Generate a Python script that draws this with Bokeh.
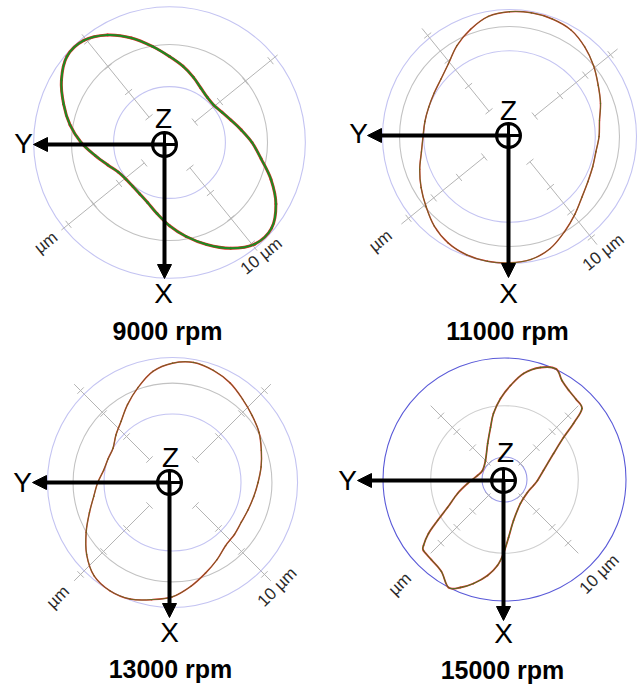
import numpy as np
from bokeh.plotting import figure
from bokeh.layouts import column, row
from bokeh.models import Range1d, Arrow, NormalHead
from bokeh.core.properties import value
from bokeh.embed import file_html
from bokeh.resources import INLINE

# ---------------------------------------------------------------------------
# Shaft orbit data: radius (µm) against angle (deg, counter-clockwise from the
# right-hand side of the plot).
# ---------------------------------------------------------------------------
ANGLES_DEG = [0, 10, 20, 30, 40, 50, 60, 70, 80, 90, 100, 110, 120, 130, 140, 150, 160, 170,
              180, 190, 200, 210, 220, 230, 240, 250, 260, 270, 280, 290, 300, 310, 320, 330, 340, 350]

ORBIT_9000 = [6.35, 5.60, 5.03, 4.66, 4.46, 4.53, 4.83, 5.35, 5.96, 6.62, 7.50, 8.56,
              9.55, 10.25, 10.30, 9.60, 8.67, 7.77, 6.80, 5.80, 5.05, 4.55, 4.38, 4.40,
              4.57, 4.92, 5.55, 6.40, 7.34, 8.35, 9.40, 10.20, 10.25, 9.45, 8.31, 7.15]

ORBIT_11000 = [6.89, 7.03, 7.45, 7.88, 8.45, 9.00, 9.46, 9.62, 9.66, 9.60, 9.38, 8.77,
               8.08, 7.31, 6.88, 6.69, 6.61, 6.61, 6.65, 6.88, 7.35, 7.85, 8.38, 9.00,
               9.45, 9.68, 9.75, 9.72, 9.60, 9.17, 8.46, 7.82, 7.27, 6.96, 6.81, 6.75]

ORBIT_13000 = [6.58, 6.92, 7.27, 7.69, 8.00, 8.38, 8.85, 9.18, 9.38, 9.18, 8.68, 7.77,
               6.92, 6.15, 5.68, 5.28, 5.28, 5.38, 5.75, 6.15, 6.80, 7.67, 8.62, 9.38,
               9.62, 9.54, 9.15, 8.79, 8.11, 7.42, 6.85, 6.35, 6.22, 6.11, 6.18, 6.34]

ANGLES_15000 = [13.0, 27.9, 35.4, 39.1, 42.5, 48.3, 54.3, 59.9, 65.0, 72.2, 79.8, 86.3,
                92.8, 99.5, 105.0, 115.0, 135.0, 157.8, 171.6, 186.2, 196.6, 206.2, 211.5,
                215.4, 219.2, 221.2, 227.6, 235.5, 242.6, 247.8, 253.4, 260.0, 265.3, 269.2,
                274.0, 282.4, 303.7, 330.5, 348.3, 358.3]
ORBIT_15000 = [4.44, 6.17, 8.04, 9.88, 11.67, 11.94, 12.22, 12.72, 13.56, 13.07, 11.97, 10.47,
               9.01, 7.43, 5.99, 4.42, 2.99, 2.64, 3.03, 4.13, 5.44, 7.06, 8.72,
               10.36, 11.61, 11.97, 12.06, 12.39, 13.52, 12.96, 12.06, 10.83, 9.59, 8.22,
               6.46, 4.67, 3.20, 2.93, 3.29, 3.67]

# Reference circles: minimum, mean and maximum radius (µm)
CIRCLES_9000 = [4.30, 7.54, 10.45]
CIRCLES_11000 = [6.60, 8.46, 9.77]
CIRCLES_13000 = [5.27, 7.65, 9.62]
CIRCLES_15000 = [2.50, 8.20, 13.50]

SCALE_TICKS_UM = [2.5, 5.0, 7.5, 10.0]
SPEED_LABELS = ["9000 rpm", "11000 rpm", "13000 rpm", "15000 rpm"]

# ---------------------------------------------------------------------------
# Panel layout (pixel offsets are measured from the plot centre, y downwards)
# ---------------------------------------------------------------------------
TOP_H, BOTTOM_H = 347, 337

PANELS = [
    dict(w=321, h=TOP_H, cx=169, cy=142, s=13.0, rot=39, span=(2.5, 10.7),
         z=(-5, 2), y_tip=-136, x_tip=136, y_lab=(-146, 1), x_lab=(-6, 151), z_lab=(-6, -24),
         title=(-2, 188), unit_r=159, ten_r=146,
         red_w=3.0, green_w=2.0, green_a=1.0,
         ring_colors=["#c4c4f2", "#c2c2c2", "#c4c4f2"]),
    dict(w=322, h=TOP_H, cx=188, cy=136, s=13.0, rot=39, span=(2.5, 10.7),
         z=(-1, -1), y_tip=-142, x_tip=141, y_lab=(-151, -3), x_lab=(-1, 157), z_lab=(-1, -26),
         title=(-2, 194), unit_r=166, ten_r=149,
         red_w=1.5, green_w=1.0, green_a=0.6,
         ring_colors=["#c4c4f2", "#c2c2c2", "#c4c4f2"]),
    dict(w=321, h=BOTTOM_H, cx=172, cy=482 - TOP_H, s=13.0, rot=45, span=(2.5, 10.7),
         z=(-3, 0), y_tip=-140, x_tip=135, y_lab=(-150, 0), x_lab=(-3, 150), z_lab=(-2, -25),
         title=(-2, 186), unit_r=162, ten_r=148,
         red_w=1.5, green_w=1.0, green_a=0.6,
         ring_colors=["#c4c4f2", "#c2c2c2", "#c4c4f2"]),
    dict(w=322, h=BOTTOM_H, cx=183, cy=479 - TOP_H, s=9.0, rot=45, span=(2.2, 11.6),
         z=(-1, 1), y_tip=-147, x_tip=141, y_lab=(-157, 1), x_lab=(-1, 154), z_lab=(1, -27),
         title=(-2, 190), unit_r=148, ten_r=134,
         red_w=1.8, green_w=1.0, green_a=0.85,
         ring_colors=["#9a9ae8", "#cfcfcf", "#5a5ad8"]),
]

ORBITS = [(ANGLES_DEG, ORBIT_9000), (ANGLES_DEG, ORBIT_11000),
          (ANGLES_DEG, ORBIT_13000), (ANGLES_15000, ORBIT_15000)]
CIRCLES = [CIRCLES_9000, CIRCLES_11000, CIRCLES_13000, CIRCLES_15000]

RED = "#e0302a"
GREEN = "#1c8a22"
AXIS_GREY = "#b4b4b4"
FONT = value("Liberation Sans")


def closed_curve_segments(xs, ys):
    """Cubic Bezier pieces (Catmull-Rom tangents) through a closed set of points."""
    x, y = np.asarray(xs), np.asarray(ys)
    xp, yp = np.roll(x, 1), np.roll(y, 1)        # previous point
    xn, yn = np.roll(x, -1), np.roll(y, -1)      # next point
    xnn, ynn = np.roll(x, -2), np.roll(y, -2)    # point after next
    return dict(x0=x, y0=y, x1=xn, y1=yn,
                cx0=x + (xn - xp) / 6.0, cy0=y + (yn - yp) / 6.0,
                cx1=xn - (xnn - x) / 6.0, cy1=yn - (ynn - y) / 6.0)


def make_panel(cfg, angles, radii, circles, speed):
    s = cfg["s"]
    W, H, cx, cy = cfg["w"], cfg["h"], cfg["cx"], cfg["cy"]

    def pos(dx, dy):
        return dx / s, -dy / s

    p = figure(width=W, height=H,
               x_range=Range1d(-cx / s, (W - cx) / s),
               y_range=Range1d(-(H - cy) / s, cy / s),
               output_backend="svg", toolbar_location=None,
               x_axis_location=None, y_axis_location=None,
               min_border=0, outline_line_color=None,
               background_fill_color="white", border_fill_color="white")
    p.grid.visible = False

    # reference circles
    for r, c in zip(circles, cfg["ring_colors"]):
        p.circle(x=[0], y=[0], radius=r, fill_color=None, line_color=c, line_width=1.1)

    # two graduated diagonal scales
    r0, r1 = cfg["span"]
    half_tick = 4.5 / s
    x0s, y0s, x1s, y1s = [], [], [], []
    for k in range(4):
        a = np.radians(cfg["rot"] + 90 * k)
        ux, uy = np.cos(a), np.sin(a)
        x0s.append(r0 * ux); y0s.append(r0 * uy)
        x1s.append(r1 * ux); y1s.append(r1 * uy)
        for t in SCALE_TICKS_UM:
            x0s.append(t * ux - half_tick * uy); y0s.append(t * uy + half_tick * ux)
            x1s.append(t * ux + half_tick * uy); y1s.append(t * uy - half_tick * ux)
    p.segment(x0=x0s, y0=y0s, x1=x1s, y1=y1s, line_color=AXIS_GREY, line_width=1)

    # scale labels
    rot = np.radians(cfg["rot"])
    a_unit = np.radians(cfg["rot"] + 180)
    a_ten = np.radians(cfg["rot"] - 90)
    ur, tr = cfg["unit_r"] / s, cfg["ten_r"] / s
    p.text(x=[ur * np.cos(a_unit), tr * np.cos(a_ten)],
           y=[ur * np.sin(a_unit), tr * np.sin(a_ten)],
           text=["µm", "10 µm"], angle=rot,
           text_font=FONT, text_font_size="17px", text_color="#2a2a2a",
           text_align="center", text_baseline="middle")

    # orbit traces
    th = np.radians(angles)
    rr = np.asarray(radii)
    seg = closed_curve_segments(rr * np.cos(th), rr * np.sin(th))
    p.bezier(**seg, line_color=RED, line_width=cfg["red_w"], line_cap="round")
    p.bezier(**seg, line_color=GREEN, line_width=cfg["green_w"], line_alpha=cfg["green_a"],
             line_cap="round")

    # machine axes
    zx, zy = pos(*cfg["z"])
    for xe, ye in [(cfg["y_tip"] / s, zy), (zx, -cfg["x_tip"] / s)]:
        head = NormalHead(size=14, fill_color="black", line_color="black", line_width=1)
        p.add_layout(Arrow(end=head, x_start=zx, y_start=zy, x_end=xe, y_end=ye,
                           line_color="black", line_width=4))
    p.scatter(x=[zx], y=[zy], marker="circle_cross", size=24, line_width=3,
              line_color="black", fill_color="white")

    lx, ly = zip(pos(*cfg["y_lab"]), pos(*cfg["x_lab"]), pos(*cfg["z_lab"]))
    p.text(x=list(lx), y=list(ly), text=["Y", "X", "Z"],
           text_font=FONT, text_font_size="28px", text_color="black",
           text_align="center", text_baseline="middle")

    tx, ty = pos(*cfg["title"])
    p.text(x=[tx], y=[ty], text=[speed], text_font=FONT, text_font_size="25px",
           text_font_style="bold", text_color="black",
           text_align="center", text_baseline="middle")
    return p


figs = [make_panel(cfg, a, r, c, lab)
        for cfg, (a, r), c, lab in zip(PANELS, ORBITS, CIRCLES, SPEED_LABELS)]

layout = column(row(figs[0], figs[1]), row(figs[2], figs[3]))
open("out.html", "w").write(file_html(layout, INLINE))
